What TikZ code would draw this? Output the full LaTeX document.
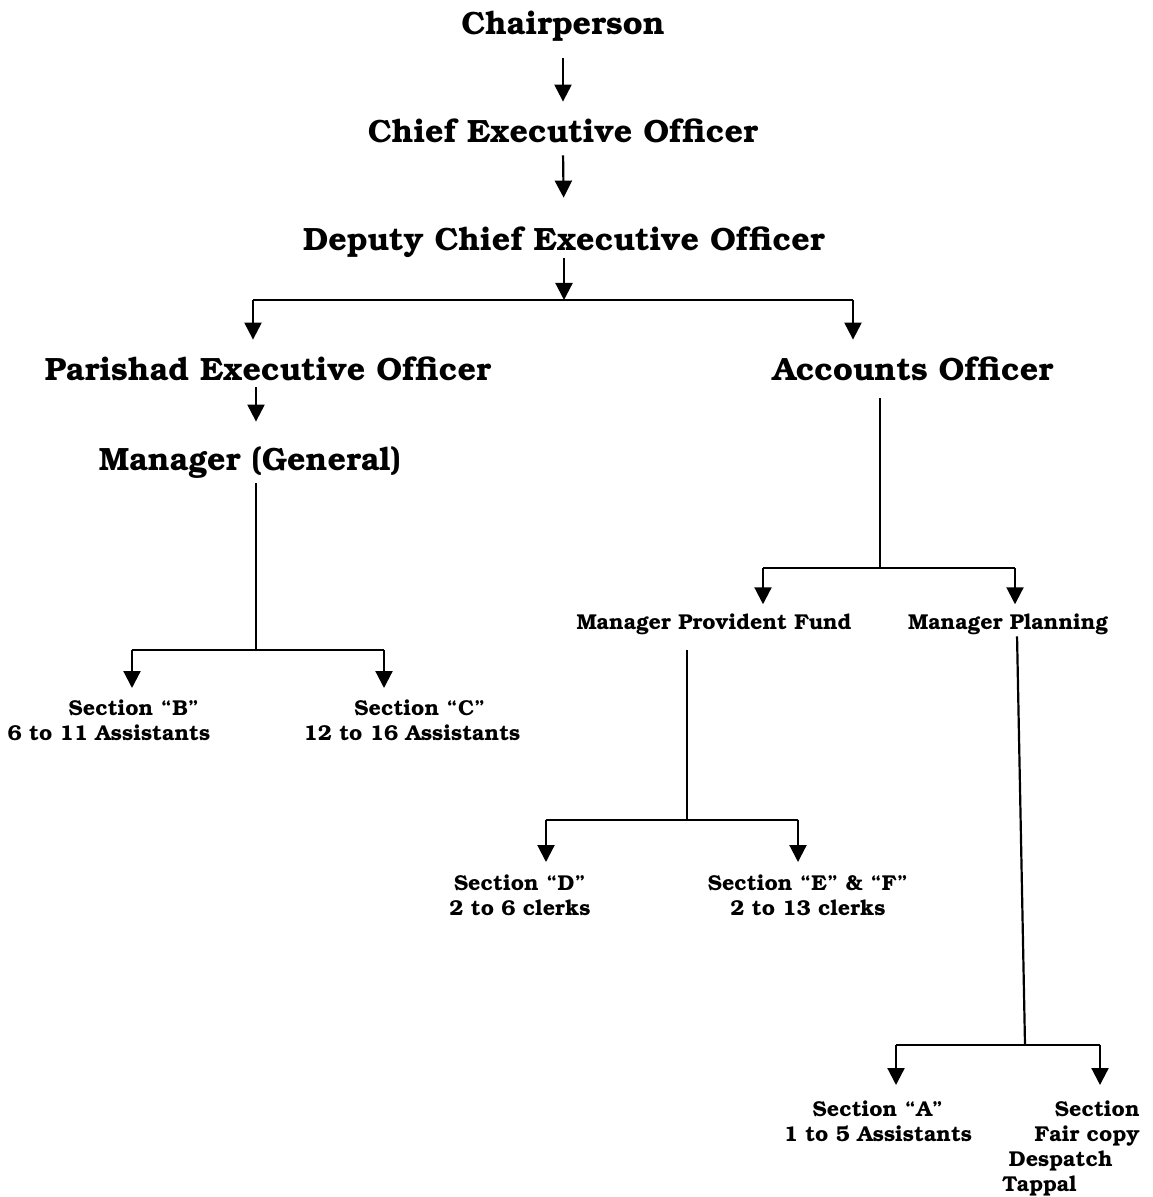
\documentclass[tikz,border=0pt]{standalone}
\usepackage[T1]{fontenc}
\usepackage{bookman}
\usetikzlibrary{arrows.meta}
\tikzset{
	post/.style={font=\fontsize{16.1}{19}\selectfont\bfseries, inner sep=0pt, anchor=base, text height=11pt, text depth=3.5pt},
	unit/.style={font=\fontsize{10.75}{12.5}\selectfont\bfseries, inner sep=0pt, align=center},
	arr/.style={-{Triangle[length=8.5pt,width=8.5pt]}, line width=1.1pt},
	link/.style={line width=1.1pt},
}
\begin{document}
\begin{tikzpicture}[x=0.5pt,y=-0.5pt]
	\useasboundingbox (0,0) rectangle (1152,1197);
	%Chức danh lớn:
	\node[post] (chair) at (563,35) {Chairperson};
	\node[post] (ceo) at (563,143) {Chief Executive Officer};
	\node[post] (dceo) at (564,251) {Deputy Chief Executive Officer};
	\node[post] (peo) at (268,380) {Parishad Executive Officer};
	\node[post] (ao) at (913,380) {Accounts Officer};
	\node[post] (mgen) at (250,470) {Manager (General)};
	%Chức danh nhỏ, các phòng:
	\node[unit,anchor=base] (mpf) at (714,629) {Manager Provident Fund};
	\node[unit,anchor=base] (mpl) at (1008,629) {Manager Planning};
	\node[unit,anchor=north] (secb) at (109,700) {\hspace*{25pt}Section ``B''\\6 to 11 Assistants};
	\node[unit,anchor=north] (secc) at (412,700) {\hspace*{8pt}Section ``C''\\12 to 16 Assistants};
	\node[unit,anchor=north] (secd) at (520,875) {Section ``D''\\2 to 6 clerks};
	\node[unit,anchor=north] (sece) at (808,875) {Section ``E'' \& ``F''\\2 to 13 clerks};
	\node[unit,anchor=north] (seca) at (878,1101) {Section ``A''\\1 to 5 Assistants};
	\node[unit,anchor=north east,align=right] (secf) at (1140,1101) {Section\\Fair copy\\Despatch\rule{13.5pt}{0pt}\\Tappal\rule{31.5pt}{0pt}};
	%Điểm nối:
	\path
	(564,300) coordinate (jd)
	(253,300) coordinate (jdL)
	(853,300) coordinate (jdR)
	(256,650) coordinate (jg)
	(132,650) coordinate (jgL)
	(384,650) coordinate (jgR)
	(880,568) coordinate (ja)
	(763,568) coordinate (jaL)
	(1015,568) coordinate (jaR)
	(687,820) coordinate (jp)
	(546,820) coordinate (jpL)
	(798,820) coordinate (jpR)
	(1025,1045) coordinate (jm)
	(896,1045) coordinate (jmL)
	(1100,1045) coordinate (jmR);
	%Mũi tên, đường nối:
	\draw[arr,shorten <=8pt,shorten >=9.5pt] (chair.south) -- (ceo.north);
	\draw[arr,shorten <=2.5pt,shorten >=15.5pt] (ceo.south) -- (dceo.north);
	\draw[arr] (dceo.south) -- (jd);
	\draw[link] (jdL) -- (jdR);
	\draw[arr,shorten >=9pt] (jdL) -- (jdL |- peo.north);
	\draw[arr,shorten >=9pt] (jdR) -- (jdR |- ao.north);
	\draw[arr,shorten >=13pt] (peo.south -| jg) -- (jg |- mgen.north);
	\draw[link,shorten <=3pt] (jg |- mgen.south) -- (jg);
	\draw[link] (jgL) -- (jgR);
	\draw[arr,shorten >=6pt] (jgL) -- (jgL |- secb.north);
	\draw[arr,shorten >=6pt] (jgR) -- (jgR |- secc.north);
	\draw[link,shorten <=5.5pt] (ja |- ao.south) -- (ja);
	\draw[link] (jaL) -- (jaR);
	\draw[arr,shorten >=4.5pt] (jaL) -- (jaL |- mpf.north);
	\draw[arr,shorten >=4.5pt] (jaR) -- (jaR |- mpl.north);
	\draw[link,shorten <=8pt] (jp |- mpf.south) -- (jp);
	\draw[link] (jpL) -- (jpR);
	\draw[arr,shorten >=6.5pt] (jpL) -- (jpL |- secd.north);
	\draw[arr,shorten >=6.5pt] (jpR) -- (jpR |- sece.north);
	\draw[link,shorten <=1pt] ([xshift=4.5pt]mpl.south) -- (jm);
	\draw[link] (jmL) -- (jmR);
	\draw[arr,shorten >=8pt] (jmL) -- (jmL |- seca.north);
	\draw[arr,shorten >=8pt] (jmR) -- (jmR |- secf.north);
\end{tikzpicture}
\end{document}
